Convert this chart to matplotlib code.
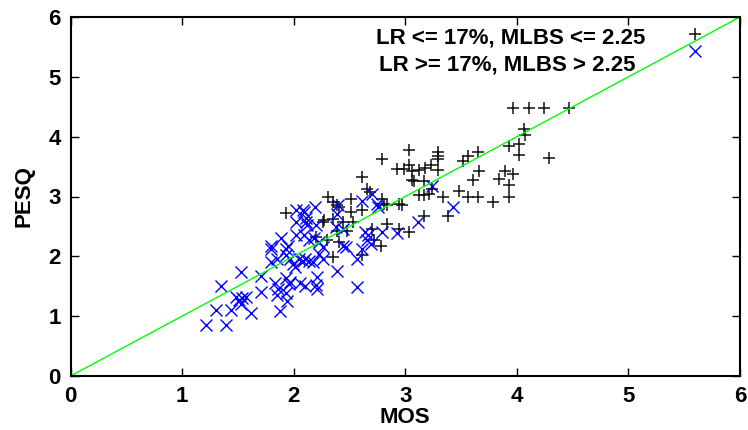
import matplotlib
matplotlib.use("Agg")
import matplotlib.pyplot as plt

plt.rcParams['font.family'] = ['Liberation Sans', 'DejaVu Sans']
plt.rcParams['font.weight'] = 'bold'

# Group 1: LR <= 17%, MLBS <= 2.25 (black +)
mos_low = [3.97, 4.11, 4.24, 4.47, 4.06, 4.07, 3.93, 4.02, 4.02, 4.29,
           3.03, 2.79, 3.29, 3.29, 3.29, 3.56, 3.52, 3.65, 3.66, 3.61,
           3.89, 3.84, 3.97, 3.93, 2.99, 3.03, 3.06, 3.12, 3.18, 3.23,
           3.29, 3.06, 3.08, 3.17, 3.48, 3.34, 3.56, 3.65, 3.79, 3.93,
           3.12, 3.17, 3.21, 3.24, 2.97, 3.17, 3.38, 3.03, 2.61, 2.66,
           2.68, 2.31, 2.35, 2.39, 2.41, 2.51, 2.61, 2.51, 2.79, 2.84,
           2.81, 2.94, 2.93, 2.27, 2.35, 2.44, 2.53, 2.84, 2.70, 2.94,
           2.39, 2.48, 2.30, 2.41, 2.72, 2.78, 2.61, 2.35, 1.93, 2.26,
           2.20]
pesq_low = [4.48, 4.48, 4.48, 4.48, 4.13, 4.03, 3.85, 3.88, 3.70, 3.65,
            3.78, 3.62, 3.74, 3.67, 3.63, 3.68, 3.60, 3.74, 3.42, 3.28,
            3.42, 3.30, 3.37, 3.20, 3.46, 3.52, 3.43, 3.45, 3.48, 3.52,
            3.45, 3.28, 3.26, 3.26, 3.10, 2.99, 2.99, 3.00, 2.91, 2.99,
            3.02, 3.02, 3.05, 3.13, 2.85, 2.68, 2.67, 2.41, 3.33, 3.13,
            3.07, 2.99, 2.90, 2.85, 2.82, 2.96, 2.77, 2.74, 2.95, 2.85,
            2.88, 2.88, 3.46, 2.60, 2.63, 2.57, 2.57, 2.54, 2.46, 2.45,
            2.43, 2.43, 2.27, 2.24, 2.27, 2.18, 2.03, 1.99, 2.73, 2.57,
            2.33]

# Group 2: LR >= 17%, MLBS > 2.25 (blue x)
mos_high = [1.21, 1.39, 1.30, 1.44, 1.62, 1.88, 1.35, 1.53, 1.48, 1.51,
            1.54, 1.57, 1.53, 1.71, 1.71, 1.80, 1.80, 1.80, 1.85, 1.83,
            1.85, 1.86, 1.89, 1.93, 1.96, 1.93, 1.94, 1.93, 1.95, 1.93,
            1.97, 1.99, 2.01, 2.02, 2.08, 2.11, 2.12, 2.02, 2.09, 2.05,
            2.08, 2.10, 2.06, 2.10, 2.20, 2.21, 2.21, 1.97, 2.39, 2.57,
            2.57, 2.14, 2.17, 2.23, 2.19, 2.09, 2.11, 2.20, 2.39, 2.38,
            2.44, 2.14, 2.18, 2.23, 2.26, 2.44, 2.47, 2.26, 2.61, 2.70,
            2.75, 2.76, 2.64, 2.67, 2.66, 2.69, 2.79, 2.93, 2.61, 3.11,
            3.24, 3.43, 2.40, 2.02]
pesq_high = [0.85, 0.85, 1.10, 1.10, 1.05, 1.08, 1.50, 1.73, 1.32, 1.27,
             1.30, 1.32, 1.21, 1.41, 1.67, 2.18, 2.13, 1.90, 1.96, 1.56,
             1.35, 1.46, 2.30, 1.63, 1.53, 1.38, 1.25, 2.13, 2.18, 2.02,
             1.96, 1.88, 1.82, 2.78, 2.77, 2.64, 2.52, 2.36, 2.35, 1.96,
             1.93, 1.96, 1.56, 1.51, 1.52, 1.66, 1.46, 1.57, 1.75, 1.49,
             1.95, 1.93, 1.90, 2.04, 2.83, 2.74, 2.57, 2.52, 2.71, 2.49,
             2.46, 2.27, 2.30, 2.24, 2.16, 2.18, 2.16, 1.96, 2.93, 3.04,
             2.88, 2.82, 2.41, 2.35, 2.27, 2.21, 2.41, 2.39, 2.13, 2.57,
             3.17, 2.83, 2.85, 2.57]

# y = x reference line
line_x = [0, 6]
line_y = [0, 6]

labels = ["LR <= 17%, MLBS <= 2.25", "LR >= 17%, MLBS > 2.25"]
ticks = [0, 1, 2, 3, 4, 5, 6]

fig = plt.figure(figsize=(7.48, 4.30), dpi=100)
ax = fig.add_axes([70.5/748, 54/430, 669.5/748, 359/430])

ax.plot(mos_low, pesq_low, linestyle='none', marker='+', ms=9, mew=1.1,
        color='#111111')
ax.plot(mos_high, pesq_high, linestyle='none', marker='x', ms=8, mew=1.0,
        color='#0000ff')
ax.plot(line_x, line_y, color='#00ff00', lw=1.0)

# key (gnuplot-like)
ax.text(0.658, 0.941, labels[0], transform=ax.transAxes, ha='center',
        va='center', fontsize=16, fontweight='bold')
ax.text(0.653, 0.866, labels[1], transform=ax.transAxes, ha='center',
        va='center', fontsize=16, fontweight='bold')
ax.plot([0.933], [0.953], transform=ax.transAxes, marker='+', ms=9,
        mew=1.1, color='#111111', linestyle='none')
ax.plot([0.933], [0.905], transform=ax.transAxes, marker='x', ms=8,
        mew=1.0, color='#0000ff', linestyle='none')

ax.set_xlim(0, 6)
ax.set_ylim(0, 6)
ax.set_xticks(ticks)
ax.set_yticks(ticks)
ax.set_xticklabels([str(t) for t in ticks], fontsize=16, fontweight='bold')
ax.set_yticklabels([str(t) for t in ticks], fontsize=16, fontweight='bold')
ax.tick_params(direction='in', length=6, width=1, top=True, right=True,
               pad=7)
for s in ax.spines.values():
    s.set_linewidth(1.5)

ax.set_xlabel("MOS", fontsize=16, fontweight='bold', labelpad=0)
ax.set_ylabel("PESQ", fontsize=16, fontweight='bold', labelpad=10)

fig.savefig("out.png", dpi=100)
